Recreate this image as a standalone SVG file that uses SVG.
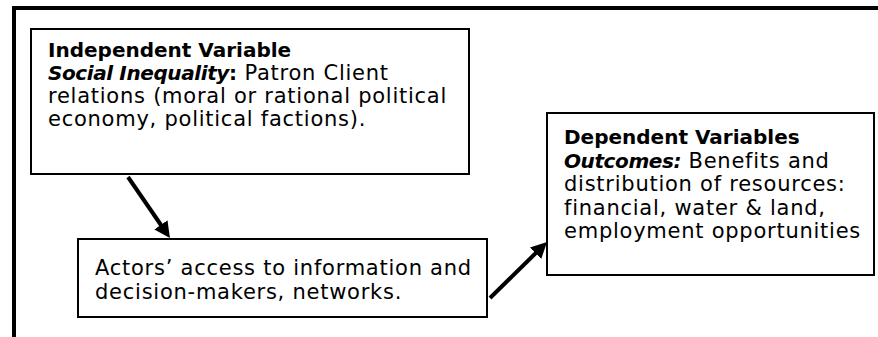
<svg xmlns="http://www.w3.org/2000/svg" width="878" height="337" viewBox="0 0 878 337">
  <defs>
    <marker id="arrowhead" viewBox="0 0 10 10" refX="2" refY="5" markerWidth="4" markerHeight="4" orient="auto" markerUnits="strokeWidth">
      <path d="M0,0 L10,5 L0,10 Z" fill="#000"/>
    </marker>
    <style>
      .frame { fill: none; stroke: #000; stroke-width: 4; }
      .box { fill: #fff; stroke: #000; stroke-width: 2; }
      .txt { font-family: "DejaVu Sans", Verdana, sans-serif; font-size: 21px; letter-spacing: 0.75px; fill: #000; }
      .b { font-weight: bold; font-size: 20px; letter-spacing: 0; }
      .bi { font-weight: bold; font-style: italic; font-size: 20px; letter-spacing: -0.4px; }
      .conn { stroke: #000; stroke-width: 4; fill: none; marker-end: url(#arrowhead); }
    </style>
  </defs>

  <!-- outer frame: top and left rule -->
  <path class="frame" d="M14,337 V8 H878"/>

  <g id="connectors">
    <line class="conn" x1="128" y1="177" x2="162.7" y2="227.5"/>
    <line class="conn" x1="490" y1="298" x2="537.9" y2="251"/>
  </g>

  <g id="independent">
    <rect class="box" x="31" y="29" width="438" height="145"/>
    <text class="txt" x="48" y="57"><tspan class="b">Independent Variable</tspan></text>
    <text class="txt" x="48" y="80"><tspan class="bi">Social Inequality</tspan><tspan class="b">:</tspan> Patron Client</text>
    <text class="txt" x="48" y="103">relations (moral or rational political</text>
    <text class="txt" x="48" y="126">economy, political factions).</text>
  </g>

  <g id="actors">
    <rect class="box" x="78" y="239" width="409" height="78"/>
    <text class="txt" x="95" y="275">Actors’ access to information and</text>
    <text class="txt" x="95" y="299">decision-makers, networks.</text>
  </g>

  <g id="dependent">
    <rect class="box" x="547" y="113" width="327" height="162"/>
    <text class="txt" x="564" y="144"><tspan class="b">Dependent Variables</tspan></text>
    <text class="txt" x="564" y="167.5"><tspan class="bi">Outcomes:</tspan> Benefits and</text>
    <text class="txt" x="564" y="191">distribution of resources:</text>
    <text class="txt" x="564" y="214.5">financial, water &amp; land,</text>
    <text class="txt" x="564" y="238">employment opportunities</text>
  </g>
</svg>
